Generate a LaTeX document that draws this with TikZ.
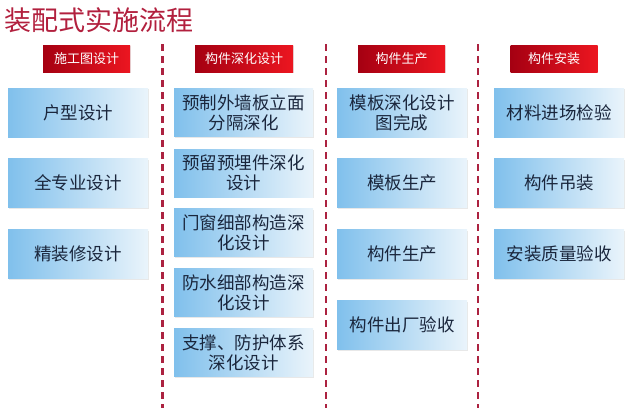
\documentclass[tikz,border=0pt]{standalone}
\usepackage{fontspec}
\setmainfont{Noto Sans CJK SC}
\usetikzlibrary{shadows}
\definecolor{titlered}{RGB}{178,32,62}
\definecolor{dashred}{RGB}{172,34,64}
\definecolor{headL}{RGB}{165,0,18}
\definecolor{headR}{RGB}{236,22,32}
\definecolor{boxL}{RGB}{128,192,236}
\definecolor{boxR}{RGB}{234,244,251}
\definecolor{boxtext}{RGB}{26,38,60}
\begin{document}
\begin{tikzpicture}[x=1pt,y=-1pt,line join=round,
	headbox/.style={inner sep=0pt,minimum width=87pt,minimum height=27pt,left color=headL,right color=headR,
		text=white,font=\fontsize{13}{13}\selectfont,drop shadow={opacity=0.2,shadow xshift=0.8pt,shadow yshift=-0.8pt}},
	stagebox/.style={inner sep=0pt,minimum height=49pt,left color=boxL,right color=boxR,text=boxtext,
		align=center,font=\fontsize{17.5}{20}\selectfont,drop shadow={opacity=0.18,shadow xshift=1pt,shadow yshift=-1pt}},
	sepline/.style={dashred,line width=2.4pt,dash pattern=on 7pt off 5pt}]
	\useasboundingbox (0,0) rectangle (631,408);
	\def\ca{78} \def\cb{243.5} \def\cc{402} \def\cd{559} % column centres
	\node[titlered,anchor=west,font=\fontsize{27}{27}\selectfont] (title) at (1,20) {装配式实施流程};
	% separators
	\foreach \sx in {162.5,326,478}
		\draw[sepline] (\sx,44)--(\sx,408);
	% headers
	\node[headbox] (hdesign) at (86.5,58.5) {施工图设计};
	\node[headbox,minimum width=98pt] (hdeep) at (244,58.5) {构件深化设计};
	\node[headbox] (hprod) at (401.5,58.5) {构件生产};
	\node[headbox] (hinst) at (554,58.5) {构件安装};
	% column 1
	\node[stagebox,minimum width=140pt] (house) at (\ca,112.5) {户型设计};
	\node[stagebox,minimum width=140pt] (allpro) at (\ca,183) {全专业设计};
	\node[stagebox,minimum width=140pt] (finish) at (\ca,254) {精装修设计};
	% column 2
	\node[stagebox,minimum width=139pt,minimum height=48pt] (facade) at (\cb,112.5) {预制外墙板立面\\分隔深化};
	\node[stagebox,minimum width=139pt,minimum height=48pt] (embed) at (\cb,173) {预留预埋件深化\\设计};
	\node[stagebox,minimum width=139pt,minimum height=48pt] (window) at (\cb,232.5) {门窗细部构造深\\化设计};
	\node[stagebox,minimum width=139pt,minimum height=48pt] (water) at (\cb,292.5) {防水细部构造深\\化设计};
	\node[stagebox,minimum width=139pt,minimum height=48pt] (support) at (\cb,352.5) {支撑、防护体系\\深化设计};
	% column 3
	\node[stagebox,minimum width=130pt] (mould) at (\cc,112.5) {模板深化设计\\图完成};
	\node[stagebox,minimum width=130pt] (mprod) at (\cc,183) {模板生产};
	\node[stagebox,minimum width=130pt] (cprod) at (\cc,254) {构件生产};
	\node[stagebox,minimum width=130pt] (check) at (\cc,325) {构件出厂验收};
	% column 4
	\node[stagebox,minimum width=130pt] (arrive) at (\cd,112.5) {材料进场检验};
	\node[stagebox,minimum width=130pt] (hoist) at (\cd,183) {构件吊装};
	\node[stagebox,minimum width=130pt] (quality) at (\cd,254) {安装质量验收};
\end{tikzpicture}
\end{document}
